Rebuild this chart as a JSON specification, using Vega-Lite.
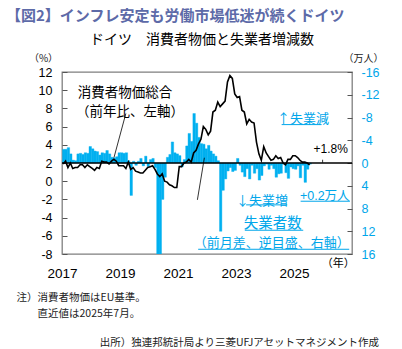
{
"$schema":"https://vega.github.io/schema/vega-lite/v6.json",
"width":290,"height":182,
"autosize":{"type":"none"},
"padding":{"left":62,"top":72,"right":50,"bottom":95},
"background":"white",
"config":{"font":"Liberation Sans, Noto Sans CJK JP","view":{"stroke":"#7f7f7f","strokeWidth":1.3},"axis":{"grid":false},
  "locale":{"number":{"decimal":".","thousands":",","grouping":[3],"currency":["$",""],"minus":"-"}}},
"title":{"text":"【図2】インフレ安定も労働市場低迷が続くドイツ","subtitle":"\u200B　　　　　　ドイツ　消費者物価と失業者増減数","anchor":"start","frame":"group","dx":-56,"offset":6,"subtitlePadding":9,"color":"#5d6aa8","fontSize":15,"fontWeight":"bold","font":"Noto Sans CJK JP","subtitleFont":"Noto Sans CJK JP","subtitleFontSize":14,"subtitleColor":"black"},
"datasets":{"m":[
{"date":"2017-01-01","cpi":1.9,"chg":-2.4},{"date":"2017-02-01","cpi":2.2,"chg":-2.4},{"date":"2017-03-01","cpi":1.5,"chg":-2.7},{"date":"2017-04-01","cpi":2.0,"chg":-1.6},{"date":"2017-05-01","cpi":1.4,"chg":-0.5},{"date":"2017-06-01","cpi":1.5,"chg":-0.4},{"date":"2017-07-01","cpi":1.5,"chg":-1.6},{"date":"2017-08-01","cpi":1.8,"chg":-1.7},{"date":"2017-09-01","cpi":1.8,"chg":-1.5},{"date":"2017-10-01","cpi":1.5,"chg":-1.8},{"date":"2017-11-01","cpi":1.8,"chg":-1.7},{"date":"2017-12-01","cpi":1.6,"chg":-2.9},
{"date":"2018-01-01","cpi":1.4,"chg":-2.5},{"date":"2018-02-01","cpi":1.2,"chg":-2.1},{"date":"2018-03-01","cpi":1.5,"chg":-2.0},{"date":"2018-04-01","cpi":1.4,"chg":-1.4},{"date":"2018-05-01","cpi":2.2,"chg":-1.8},{"date":"2018-06-01","cpi":2.1,"chg":-1.7},{"date":"2018-07-01","cpi":2.1,"chg":-2.2},{"date":"2018-08-01","cpi":1.9,"chg":-1.6},{"date":"2018-09-01","cpi":2.2,"chg":-1.0},{"date":"2018-10-01","cpi":2.4,"chg":-0.9},{"date":"2018-11-01","cpi":2.2,"chg":-1.1},{"date":"2018-12-01","cpi":1.7,"chg":-1.8},
{"date":"2019-01-01","cpi":1.7,"chg":-1.8},{"date":"2019-02-01","cpi":1.7,"chg":-1.7},{"date":"2019-03-01","cpi":1.4,"chg":-1.8},{"date":"2019-04-01","cpi":2.1,"chg":-0.4},{"date":"2019-05-01","cpi":1.3,"chg":5.7},{"date":"2019-06-01","cpi":1.5,"chg":-0.3},{"date":"2019-07-01","cpi":1.1,"chg":0.4},{"date":"2019-08-01","cpi":1.0,"chg":-0.3},{"date":"2019-09-01","cpi":0.9,"chg":-0.8},{"date":"2019-10-01","cpi":0.9,"chg":0.5},{"date":"2019-11-01","cpi":1.2,"chg":-1.2},{"date":"2019-12-01","cpi":1.5,"chg":0.6},
{"date":"2020-01-01","cpi":1.6,"chg":-0.6},{"date":"2020-02-01","cpi":1.7,"chg":-0.8},{"date":"2020-03-01","cpi":1.3,"chg":0.8},{"date":"2020-04-01","cpi":0.8,"chg":37.3},{"date":"2020-05-01","cpi":0.5,"chg":23.8},{"date":"2020-06-01","cpi":0.8,"chg":6.4},{"date":"2020-07-01","cpi":0.0,"chg":2.5},{"date":"2020-08-01","cpi":-0.1,"chg":-1.0},{"date":"2020-09-01","cpi":-0.4,"chg":-1.5},{"date":"2020-10-01","cpi":-0.5,"chg":-3.7},{"date":"2020-11-01","cpi":-0.7,"chg":-1.8},{"date":"2020-12-01","cpi":-0.7,"chg":-1.6},
{"date":"2021-01-01","cpi":1.6,"chg":-1.3},{"date":"2021-02-01","cpi":1.6,"chg":0.7},{"date":"2021-03-01","cpi":2.0,"chg":-0.6},{"date":"2021-04-01","cpi":2.1,"chg":-3.0},{"date":"2021-05-01","cpi":2.4,"chg":-5.2},{"date":"2021-06-01","cpi":2.1,"chg":-3.8},{"date":"2021-07-01","cpi":3.1,"chg":-8.7},{"date":"2021-08-01","cpi":3.4,"chg":-7.0},{"date":"2021-09-01","cpi":4.1,"chg":-4.5},{"date":"2021-10-01","cpi":4.6,"chg":-3.4},{"date":"2021-11-01","cpi":6.0,"chg":-3.3},{"date":"2021-12-01","cpi":5.7,"chg":-2.5},
{"date":"2022-01-01","cpi":5.1,"chg":-3.1},{"date":"2022-02-01","cpi":5.5,"chg":-2.1},{"date":"2022-03-01","cpi":7.6,"chg":-1.6},{"date":"2022-04-01","cpi":7.8,"chg":-1.2},{"date":"2022-05-01","cpi":8.7,"chg":-0.4},{"date":"2022-06-01","cpi":8.2,"chg":12.0},{"date":"2022-07-01","cpi":8.5,"chg":4.8},{"date":"2022-08-01","cpi":8.8,"chg":2.8},{"date":"2022-09-01","cpi":10.9,"chg":1.4},{"date":"2022-10-01","cpi":11.6,"chg":0.8},{"date":"2022-11-01","cpi":11.3,"chg":1.5},{"date":"2022-12-01","cpi":9.6,"chg":1.3},
{"date":"2023-01-01","cpi":9.2,"chg":-0.8},{"date":"2023-02-01","cpi":9.3,"chg":0.4},{"date":"2023-03-01","cpi":7.8,"chg":1.6},{"date":"2023-04-01","cpi":7.6,"chg":2.4},{"date":"2023-05-01","cpi":6.3,"chg":1.0},{"date":"2023-06-01","cpi":6.8,"chg":2.8},{"date":"2023-07-01","cpi":6.5,"chg":0.4},{"date":"2023-08-01","cpi":6.4,"chg":1.8},{"date":"2023-09-01","cpi":4.3,"chg":1.0},{"date":"2023-10-01","cpi":3.0,"chg":3.0},{"date":"2023-11-01","cpi":2.3,"chg":2.2},{"date":"2023-12-01","cpi":3.8,"chg":0.5},
{"date":"2024-01-01","cpi":3.1,"chg":0.2},{"date":"2024-02-01","cpi":2.7,"chg":1.1},{"date":"2024-03-01","cpi":2.3,"chg":0.4},{"date":"2024-04-01","cpi":2.4,"chg":1.0},{"date":"2024-05-01","cpi":2.8,"chg":2.5},{"date":"2024-06-01","cpi":2.5,"chg":1.9},{"date":"2024-07-01","cpi":2.6,"chg":1.8},{"date":"2024-08-01","cpi":2.0,"chg":0.2},{"date":"2024-09-01","cpi":1.8,"chg":1.7},{"date":"2024-10-01","cpi":2.4,"chg":2.7},{"date":"2024-11-01","cpi":2.4,"chg":0.7},{"date":"2024-12-01","cpi":2.8,"chg":1.0},
{"date":"2025-01-01","cpi":2.8,"chg":1.1},{"date":"2025-02-01","cpi":2.6,"chg":0.5},{"date":"2025-03-01","cpi":2.3,"chg":2.6},{"date":"2025-04-01","cpi":2.1,"chg":0.4},{"date":"2025-05-01","cpi":2.1,"chg":3.4},{"date":"2025-06-01","cpi":2.0,"chg":1.1},{"date":"2025-07-01","cpi":1.8,"chg":0.2}
]},
"layer":[
   {"data":{"name":"m"},
    "mark":{"type":"bar","color":"#00b0f0","stroke":"#00b0f0","strokeWidth":0.4,"clip":true,"binSpacing":0},
    "encoding":{
      "x":{"field":"date","timeUnit":"utcyearmonth","type":"temporal",
           "scale":{"type":"utc","domain":[{"year":2017,"month":1,"date":1,"utc":true},{"year":2027,"month":1,"date":1,"utc":true}]},
           "axis":{"orient":"bottom","values":[{"year":2017,"month":1,"date":1,"utc":true},{"year":2019,"month":1,"date":1,"utc":true},{"year":2021,"month":1,"date":1,"utc":true},{"year":2023,"month":1,"date":1,"utc":true},{"year":2025,"month":1,"date":1,"utc":true}],
                   "format":"%Y","labelOverlap":false,"labelFlush":false,"labelFontSize":13.5,"labelColor":"black","labelPadding":12.5,"ticks":false,"domain":false,"labelFont":"Liberation Sans",
                   "title":["注）消費者物価はEU基準。","\u200B　　直近値は2025年7月。"],
                   "titleFont":"Noto Sans CJK JP","titleFontSize":10.5,"titleFontWeight":"normal","titleColor":"#222","titleAlign":"left","titleAnchor":"start","titleBaseline":"top","titleX":-46,"titleY":38,"titleLineHeight":16}},
      "y":{"field":"chg","type":"quantitative","scale":{"domain":[-16,16],"reverse":true,"nice":false,"zero":false},
           "axis":{"orient":"right","values":[-16,-12,-8,-4,0,4,8,12,16],"labelColor":"#00a6ea","labelFontSize":12.5,"labelPadding":14,"tickSize":-5,"tickColor":"#555","domain":false,"labelAlign":"left",
                   "title":"（万人）","titleAngle":0,"titleX":11,"titleY":-14,"titleAlign":"center","titleBaseline":"middle","titleFontSize":10,"titleFontWeight":"normal","titleColor":"#222","titleFont":"Noto Sans CJK JP"}}
    }},
   {"data":{"values":[{}]},"mark":{"type":"rule","color":"black","strokeWidth":1.4},
    "encoding":{"y":{"datum":2,"type":"quantitative","scale":{"domain":[-8,12],"nice":false,"zero":false},"axis":null}}},
   {"data":{"name":"m"},
    "mark":{"type":"line","color":"black","strokeWidth":1.6},
    "encoding":{
      "x":{"field":"date","timeUnit":"utcyearmonth","type":"temporal","bandPosition":0.5,"scale":{"type":"utc","domain":[{"year":2017,"month":1,"date":1,"utc":true},{"year":2027,"month":1,"date":1,"utc":true}]}},
      "y":{"field":"cpi","type":"quantitative","scale":{"domain":[-8,12],"nice":false,"zero":false},
           "axis":{"orient":"left","values":[-8,-6,-4,-2,0,2,4,6,8,10,12],"labelColor":"black","labelFontSize":12.5,"labelPadding":15,"tickSize":-5,"tickColor":"#555","domain":false,
                   "title":"（%）","titleAngle":0,"titleX":-19,"titleY":-14,"titleAlign":"center","titleBaseline":"middle","titleFontSize":10,"titleFontWeight":"normal","titleColor":"#222","titleFont":"Noto Sans CJK JP"}}
    }},
   {"data":{"values":[
      {"date":"2018-10-17","v":2.58,"date2":"2019-03-16","v2":7.44},
      {"date":"2021-11-29","v":2.58,"date2":"2021-09-02","v2":-2.05},
      {"date":"2025-12-27","v":2.03,"date2":"2025-12-27","v2":2.36}]},
    "mark":{"type":"rule","color":"black","strokeWidth":0.8},
    "encoding":{"x":{"field":"date","type":"temporal","scale":{"type":"utc","domain":[{"year":2017,"month":1,"date":1,"utc":true},{"year":2027,"month":1,"date":1,"utc":true}]}},
      "y":{"field":"v","type":"quantitative","scale":{"domain":[-8,12],"nice":false,"zero":false},"axis":null},
      "x2":{"field":"date2"},"y2":{"field":"v2"}}},
   {"data":{"values":[
      {"date":"2024-07-29","date2":"2025-12-14","v":6.22},
      {"date":"2023-05-09","date2":"2024-10-07","v":-2.6},
      {"date":"2025-03-25","date2":"2026-12-06","v":-2.2},
      {"date":"2023-04-22","date2":"2025-04-27","v":-5.39},
      {"date":"2021-09-12","date2":"2026-11-27","v":-7.48}]},
    "mark":{"type":"rule","color":"#00a6ea","strokeWidth":1},
    "encoding":{"x":{"field":"date","type":"temporal","scale":{"type":"utc","domain":[{"year":2017,"month":1,"date":1,"utc":true},{"year":2027,"month":1,"date":1,"utc":true}]}},
      "y":{"field":"v","type":"quantitative","scale":{"domain":[-8,12],"nice":false,"zero":false},"axis":null},
      "x2":{"field":"date2"}}},
   {"data":{"values":[
      {"date":"2017-07-19","v":9.64,"label":"消費者物価総合"},
      {"date":"2017-06-25","v":7.55,"label":"（前年比、左軸）"}]},
    "mark":{"type":"text","color":"black","fontSize":13.5,"align":"left","baseline":"middle","font":"Noto Sans CJK JP"},
    "encoding":{"x":{"field":"date","type":"temporal","scale":{"type":"utc","domain":[{"year":2017,"month":1,"date":1,"utc":true},{"year":2027,"month":1,"date":1,"utc":true}]}},
      "y":{"field":"v","type":"quantitative","scale":{"domain":[-8,12],"nice":false,"zero":false},"axis":null},
      "text":{"field":"label"}}},
   {"data":{"values":[{"date":"2026-11-11","v":3.58,"label":"+1.8%"}]},
    "mark":{"type":"text","color":"black","fontSize":12,"align":"right","baseline":"middle","font":"Liberation Sans"},
    "encoding":{"x":{"field":"date","type":"temporal","scale":{"type":"utc","domain":[{"year":2017,"month":1,"date":1,"utc":true},{"year":2027,"month":1,"date":1,"utc":true}]}},
      "y":{"field":"v","type":"quantitative","scale":{"domain":[-8,12],"nice":false,"zero":false},"axis":null},
      "text":{"field":"label"}}},
   {"data":{"values":[
      {"date":"2024-05-30","v":6.88,"label":"↑失業減"},
      {"date":"2023-01-01","v":-2.2,"label":"↓失業増"},
      {"date":"2021-07-19","v":-6.79,"label":"（前月差、逆目盛、右軸）"}]},
    "mark":{"type":"text","color":"#00a6ea","fontSize":13,"align":"left","baseline":"middle","font":"Noto Sans CJK JP"},
    "encoding":{"x":{"field":"date","type":"temporal","scale":{"type":"utc","domain":[{"year":2017,"month":1,"date":1,"utc":true},{"year":2027,"month":1,"date":1,"utc":true}]}},
      "y":{"field":"v","type":"quantitative","scale":{"domain":[-8,12],"nice":false,"zero":false},"axis":null},
      "text":{"field":"label"}}},
   {"data":{"values":[{"date":"2023-04-10","v":-4.66,"label":"失業者数"}]},
    "mark":{"type":"text","color":"#00a6ea","fontSize":14.5,"align":"left","baseline":"middle","font":"Noto Sans CJK JP"},
    "encoding":{"x":{"field":"date","type":"temporal","scale":{"type":"utc","domain":[{"year":2017,"month":1,"date":1,"utc":true},{"year":2027,"month":1,"date":1,"utc":true}]}},
      "y":{"field":"v","type":"quantitative","scale":{"domain":[-8,12],"nice":false,"zero":false},"axis":null},
      "text":{"field":"label"}}},
   {"data":{"values":[{"date":"2025-03-16","v":-1.68,"label":"+0.2万人"}]},
    "mark":{"type":"text","color":"#00a6ea","fontSize":12.5,"align":"left","baseline":"middle","font":"Liberation Sans, Noto Sans CJK JP"},
    "encoding":{"x":{"field":"date","type":"temporal","scale":{"type":"utc","domain":[{"year":2017,"month":1,"date":1,"utc":true},{"year":2027,"month":1,"date":1,"utc":true}]}},
      "y":{"field":"v","type":"quantitative","scale":{"domain":[-8,12],"nice":false,"zero":false},"axis":null},
      "text":{"field":"label"}}},
   {"data":{"values":[{"date":"2026-07-12","v":-8,"label":"（年）"}]},
    "mark":{"type":"text","color":"black","fontSize":11,"align":"center","baseline":"middle","dy":10,"font":"Noto Sans CJK JP"},
    "encoding":{"x":{"field":"date","type":"temporal","scale":{"type":"utc","domain":[{"year":2017,"month":1,"date":1,"utc":true},{"year":2027,"month":1,"date":1,"utc":true}]}},
      "y":{"field":"v","type":"quantitative","scale":{"domain":[-8,12],"nice":false,"zero":false},"axis":null},
      "text":{"field":"label"}}},
   {"data":{"values":[{"date":"2018-04-20","v":-17.8,"label":"出所）独連邦統計局より三菱UFJアセットマネジメント作成"}]},
    "mark":{"type":"text","color":"#222","fontSize":10.5,"align":"left","baseline":"middle","font":"Noto Sans CJK JP"},
    "encoding":{"x":{"field":"date","type":"temporal","scale":{"type":"utc","domain":[{"year":2017,"month":1,"date":1,"utc":true},{"year":2027,"month":1,"date":1,"utc":true}]}},
      "y":{"field":"v","type":"quantitative","scale":{"domain":[-8,12],"nice":false,"zero":false},"axis":null},
      "text":{"field":"label"}}}
],
"resolve":{"scale":{"y":"independent"}}
}
